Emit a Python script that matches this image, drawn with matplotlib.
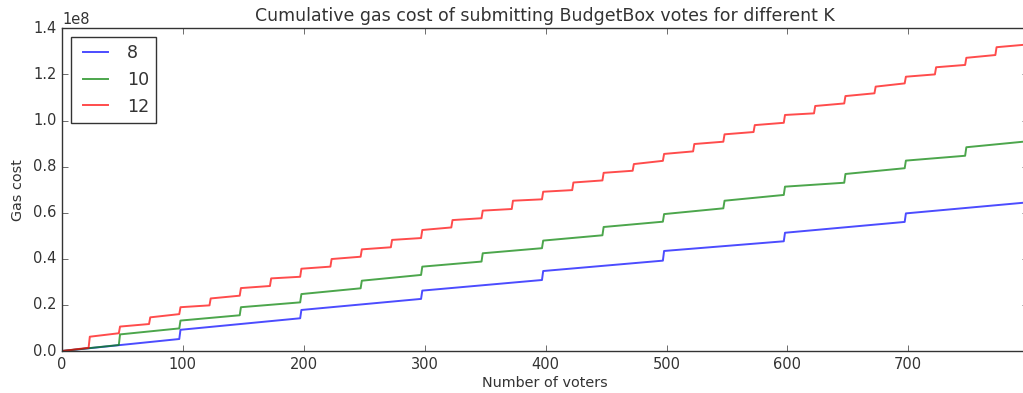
import matplotlib
matplotlib.use("Agg")
import matplotlib.pyplot as plt

plt.style.use("classic")
plt.rcParams["font.family"] = ["DejaVu Sans"]

# Data: cumulative gas cost (in units of 1e8), piecewise linear with jumps
x_end = 799

k8_jump_x = [97, 197, 297, 397, 497, 597, 697]
k8_pre = [0.052, 0.142, 0.226, 0.308, 0.392, 0.476, 0.560]
k8_post = [0.092, 0.178, 0.262, 0.347, 0.434, 0.513, 0.597]
k8_end = 0.645

k10_jump_x = [47, 97, 147, 197, 247, 297, 347, 397, 447, 497, 547, 597, 647, 697, 747]
k10_pre = [0.026, 0.098, 0.155, 0.211, 0.272, 0.330, 0.388, 0.446, 0.502, 0.561,
           0.619, 0.677, 0.730, 0.793, 0.847]
k10_post = [0.072, 0.132, 0.190, 0.247, 0.305, 0.366, 0.424, 0.479, 0.538, 0.594,
            0.652, 0.713, 0.768, 0.826, 0.884]
k10_end = 0.910

k12_jump_x = [22, 47, 72, 97, 122, 147, 172, 197, 222, 247, 272, 297, 322, 347, 372,
              397, 422, 447, 472, 497, 522, 547, 572, 597, 622, 647, 672, 697, 722,
              747, 772]
k12_pre = [0.014, 0.077, 0.117, 0.160, 0.198, 0.240, 0.282, 0.322, 0.366, 0.409,
           0.450, 0.490, 0.536, 0.576, 0.616, 0.658, 0.698, 0.740, 0.782, 0.825,
           0.866, 0.908, 0.950, 0.990, 1.031, 1.074, 1.118, 1.161, 1.200, 1.241,
           1.284]
k12_post = [0.062, 0.106, 0.146, 0.190, 0.228, 0.273, 0.315, 0.357, 0.399, 0.441,
            0.482, 0.525, 0.568, 0.609, 0.652, 0.691, 0.731, 0.773, 0.811, 0.855,
            0.898, 0.940, 0.980, 1.024, 1.063, 1.106, 1.147, 1.190, 1.231, 1.272,
            1.318]
k12_end = 1.330

labels = ["8", "10", "12"]
colors = ["b", "g", "r"]
series = [
    (k8_jump_x, k8_pre, k8_post, k8_end),
    (k10_jump_x, k10_pre, k10_post, k10_end),
    (k12_jump_x, k12_pre, k12_post, k12_end),
]


def vertices(jx, pre, post, end):
    xs, ys = [0], [0.0]
    for x, a, b in zip(jx, pre, post):
        xs += [x, x + 1]
        ys += [a, b]
    xs.append(x_end)
    ys.append(end)
    return xs, [v * 1e8 for v in ys]


fig = plt.figure(figsize=(10.23, 3.93), dpi=100, facecolor="white")
ax = fig.add_axes([62 / 1023, 1 - 351 / 393, (1028 - 62) / 1023, (351 - 28.3) / 393])
ax.set_facecolor("white")
ax.patch.set_edgecolor("none")

for (jx, pre, post, end), lab, c in zip(series, labels, colors):
    xs, ys = vertices(jx, pre, post, end)
    ax.plot(xs, ys, color=c, lw=1.4, alpha=0.7, label=lab)

ax.set_xlim(0, x_end)
ax.set_ylim(0, 1.4e8)
ax.set_xticks([0, 100, 200, 300, 400, 500, 600, 700])
ax.set_yticks([0, 0.2e8, 0.4e8, 0.6e8, 0.8e8, 1.0e8, 1.2e8, 1.4e8])
ax.tick_params(labelsize=10.5, length=4, color="#333333", labelcolor="#333333")
ax.yaxis.get_offset_text().set_fontsize(10.5)
ax.yaxis.get_offset_text().set_color("#333333")
for s in ax.spines.values():
    s.set_color("#333333")
ax.spines["right"].set_visible(False)

ax.set_xlabel("Number of voters", fontsize=10.4, color="#333333", labelpad=3)
ax.set_ylabel("Gas cost", fontsize=10.4, color="#333333", labelpad=6)
ax.set_title("Cumulative gas cost of submitting BudgetBox votes for different K",
             fontsize=12.5, color="#333333")

leg = ax.legend(loc="upper left", fontsize=12.6, fancybox=False)
leg.get_frame().set_edgecolor("#333333")
for t in leg.get_texts():
    t.set_color("#333333")

fig.savefig("out.png", dpi=100, facecolor="white", edgecolor="white")
